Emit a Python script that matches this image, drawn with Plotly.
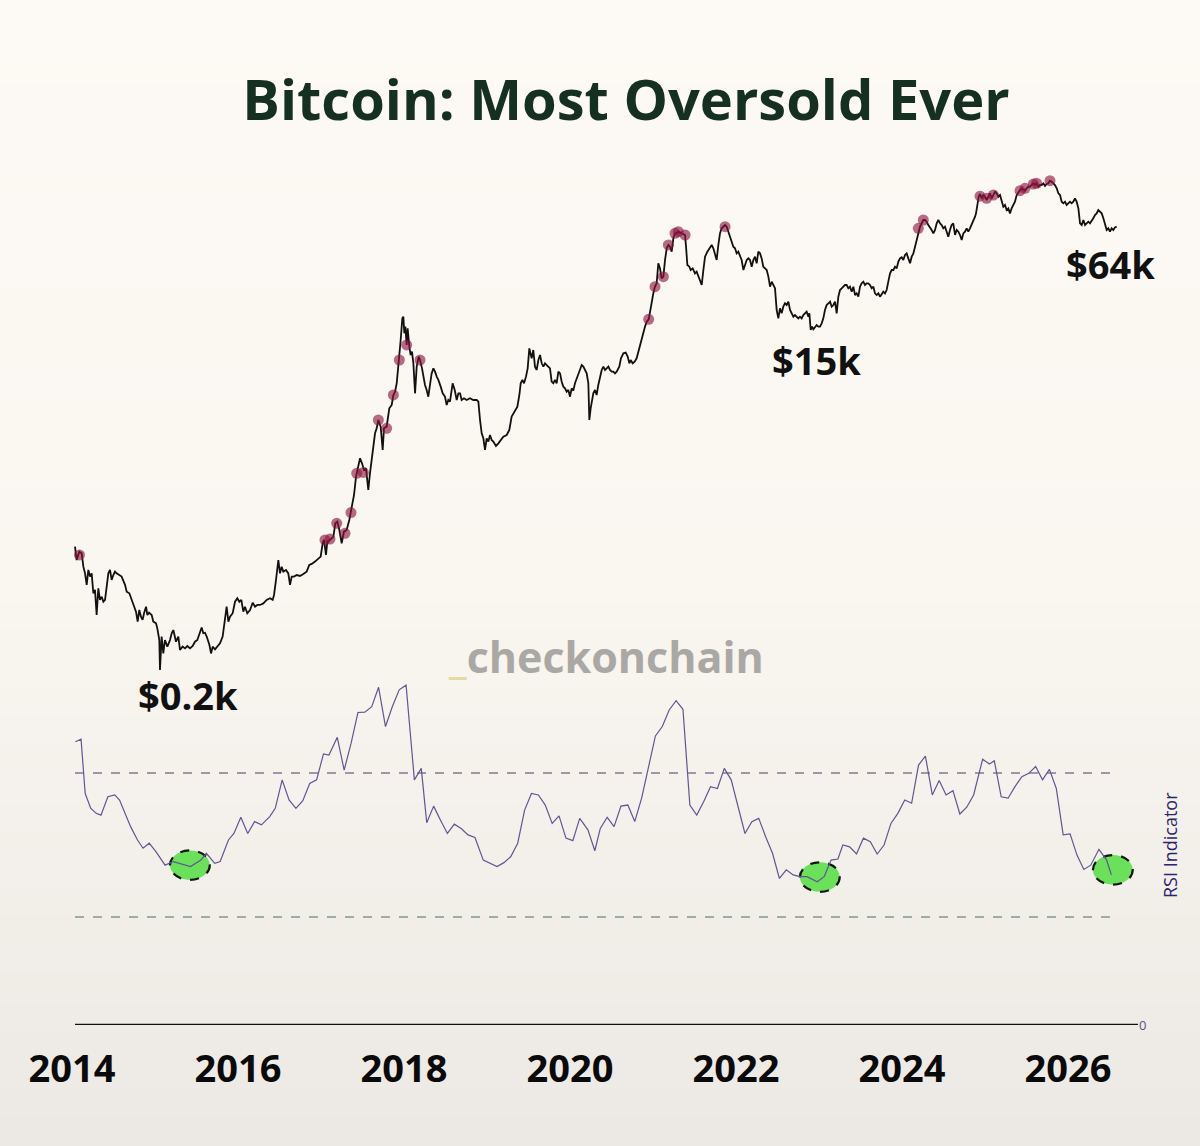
import plotly.graph_objects as go
import math

# ---------------- data ----------------
price_years = [
2014.036,2014.056,2014.088,2014.117,2014.137,2014.157,2014.177,2014.197,2014.217,2014.237,2014.257,2014.277,2014.297,2014.317,2014.337,2014.358,2014.378,2014.398,2014.418,2014.438,2014.458,2014.478,2014.498,2014.518,2014.538,2014.570,2014.598,2014.639,2014.659,2014.691,2014.719,2014.739,2014.771,2014.791,2014.811,2014.831,2014.851,2014.868,2014.892,2014.908,2014.928,2014.960,2014.980,2015.012,2015.028,2015.052,2015.060,2015.080,2015.100,2015.120,2015.149,2015.181,2015.201,2015.221,2015.253,2015.281,2015.301,2015.333,2015.361,2015.390,2015.422,2015.454,2015.482,2015.510,2015.542,2015.562,2015.582,2015.602,2015.623,2015.655,2015.675,2015.695,2015.723,2015.751,2015.783,2015.815,2015.843,2015.863,2015.884,2015.904,2015.936,2015.964,2015.992,2016.016,2016.040,2016.064,2016.084,2016.112,2016.145,2016.177,2016.205,2016.233,2016.265,2016.305,2016.345,2016.386,2016.418,2016.434,2016.458,2016.486,2016.506,2016.526,2016.546,2016.578,2016.606,2016.627,2016.647,2016.675,2016.707,2016.747,2016.787,2016.827,2016.859,2016.888,2016.928,2016.968,2016.996,2017.020,2017.036,2017.060,2017.076,2017.108,2017.149,2017.173,2017.197,2017.221,2017.249,2017.277,2017.309,2017.341,2017.357,2017.382,2017.398,2017.422,2017.450,2017.470,2017.494,2017.518,2017.542,2017.570,2017.590,
2017.611,2017.651,2017.671,2017.691,2017.719,2017.743,2017.759,2017.791,2017.823,2017.852,2017.872,2017.892,2017.912,2017.932,2017.944,2017.960,2017.980,2017.992,2018.004,2018.016,2018.032,2018.044,2018.064,2018.080,2018.096,2018.113,2018.133,2018.153,2018.177,2018.193,2018.217,2018.233,2018.253,2018.273,2018.293,2018.313,2018.333,2018.354,2018.374,2018.394,2018.414,2018.442,2018.466,2018.494,2018.514,2018.534,2018.554,2018.586,2018.611,2018.635,2018.655,2018.675,2018.695,2018.723,2018.755,2018.795,2018.835,2018.876,2018.896,2018.916,2018.936,2018.956,2018.976,2018.996,2019.016,2019.036,2019.056,2019.076,2019.108,2019.137,2019.165,2019.197,2019.237,2019.269,2019.297,2019.317,2019.337,2019.366,2019.390,2019.406,2019.426,2019.446,2019.470,2019.490,2019.510,2019.526,2019.538,2019.558,2019.578,2019.598,2019.619,2019.639,2019.659,2019.679,2019.699,2019.719,2019.739,2019.759,2019.779,2019.799,2019.819,2019.839,2019.860,2019.880,2019.900,2019.920,2019.940,2019.960,2019.980,2020.000,2020.020,2020.040,2020.060,2020.080,2020.100,2020.121,2020.141,2020.161,2020.181,2020.201,2020.221,2020.233,2020.249,2020.265,2020.281,2020.301,2020.321,2020.341,2020.362,2020.382,2020.402,2020.422,2020.442,2020.462,2020.482,2020.502,2020.522,2020.542,2020.562,2020.594,2020.614,2020.643,2020.671,2020.695,2020.715,2020.731,2020.755,2020.779,2020.803,2020.823,2020.843,2020.863,2020.884,2020.904,2020.924,2020.948,2020.972,2020.988,2021.004,2021.024,2021.044,2021.064,2021.084,2021.104,2021.125,2021.145,2021.165,2021.185,2021.205,2021.225,2021.245,2021.265,2021.285,2021.305,
2021.346,2021.386,2021.398,2021.414,2021.438,2021.454,2021.478,2021.506,2021.526,2021.546,2021.566,2021.587,2021.607,2021.627,2021.655,2021.679,2021.707,2021.727,2021.747,2021.767,2021.787,2021.807,2021.827,2021.848,2021.868,2021.888,2021.908,2021.928,2021.948,2021.968,2021.988,2022.008,2022.028,2022.048,2022.068,2022.089,2022.109,2022.129,2022.149,2022.169,2022.189,2022.209,2022.229,2022.249,2022.269,2022.289,2022.309,2022.329,2022.350,2022.370,2022.390,2022.410,2022.430,2022.450,2022.470,2022.490,2022.510,2022.530,2022.550,2022.570,2022.590,2022.611,2022.631,2022.651,2022.671,2022.691,2022.711,2022.731,2022.751,2022.771,2022.791,2022.811,2022.831,2022.851,2022.872,2022.884,2022.900,2022.916,2022.932,2022.952,2022.972,2022.992,2023.012,2023.032,2023.052,2023.072,2023.092,2023.113,2023.133,2023.153,2023.173,2023.193,2023.213,2023.233,2023.253,2023.273,2023.293,2023.313,2023.333,2023.353,2023.373,2023.394,2023.414,2023.434,2023.454,2023.474,2023.494,2023.514,2023.534,2023.554,2023.574,2023.594,2023.615,2023.635,2023.655,2023.675,2023.695,2023.715,2023.735,2023.755,2023.775,2023.795,2023.815,2023.835,2023.856,2023.876,2023.896,2023.916,2023.936,2023.956,2023.976,2023.996,2024.016,2024.036,2024.056,2024.076,2024.097,2024.117,2024.137,2024.157,2024.177,2024.197,2024.217,2024.237,2024.257,2024.277,2024.297,2024.317,2024.337,2024.357,2024.378,2024.398,2024.418,2024.438,2024.458,2024.478,2024.498,2024.518,2024.538,2024.558,2024.578,2024.598,2024.618,2024.639,2024.659,2024.679,2024.699,2024.719,2024.739,2024.759,2024.779,2024.799,2024.819,2024.839,2024.859,2024.880,2024.892,2024.908,2024.924,2024.940,2024.960,2024.980,2025.000,2025.020,2025.040,2025.060,2025.080,2025.101,2025.121,2025.141,2025.161,2025.181,2025.201,2025.221,2025.241,2025.261,2025.281,2025.301,2025.321,2025.341,2025.361,2025.382,2025.402,2025.422,2025.442,2025.462,2025.482,2025.502,2025.522,2025.542,2025.562,2025.582,2025.602,2025.622,2025.643,2025.663,2025.683,2025.703,2025.723,2025.743,2025.763,2025.783,2025.803,2025.823,2025.843,2025.864,2025.884,2025.904,2025.924,2025.944,2025.964,2025.984,2026.004,2026.024,2026.044,2026.064,2026.084,2026.104,2026.125,2026.145,2026.165,2026.185,2026.205,2026.225,2026.245,2026.265,2026.285,2026.305,2026.325,2026.345,2026.365,2026.386,2026.406,2026.426,2026.446,2026.466,2026.486,2026.506,2026.526,2026.546,2026.566,2026.586]

price_usd = [
944,796,886,867,731,671,579,701,644,671,520,543,394,554,478,498,467,478,566,671,701,617,657,686,671,657,644,579,531,520,478,448,411,362,420,386,370,403,438,394,406,394,362,354,332,286,195,299,241,286,263,286,312,325,280,299,252,263,257,265,257,265,280,286,312,336,312,314,299,269,241,263,254,263,274,299,370,438,362,386,403,467,488,467,478,411,438,403,420,461,438,448,448,457,478,488,478,509,617,796,671,731,686,701,671,579,644,644,657,649,666,686,747,757,780,814,831,986,1029,849,1007,1029,1073,1273,1301,1169,986,1144,1169,1329,1447,1645,1829,2313,2629,2924,2742,2519,2573,1950,2414,
2887,4026,4293,4774,4385,3253,4293,4385,5543,5784,6574,6859,7632,9447,10285,13282,17524,17907,14472,15760,12462,15421,12196,10963,11438,9859,6715,9447,10735,10285,9243,8312,7473,7005,6431,7473,8669,9243,8861,8312,7966,7313,6715,6431,5784,6166,6036,7632,7005,6166,6715,6715,6166,6302,6166,6302,6166,6166,6036,4774,4026,3776,3253,3776,3619,3941,3697,3619,3424,3542,3697,3857,3941,4201,4981,5199,5311,5662,6574,7632,7966,7632,8312,9243,11937,11204,10507,11691,9447,9052,10285,10963,9859,9447,9859,9644,9447,9243,7794,7632,7966,7632,8861,8669,7794,7313,7159,6859,7005,6431,7159,6948,7632,8135,8491,9052,9644,9447,9052,8669,7632,4774,5543,6036,6715,7005,6574,7473,8312,9052,9447,9052,9243,9447,9052,8861,8861,8669,8861,9447,10507,11204,11296,10735,9859,10285,9859,10070,10507,11438,12196,13571,14472,15760,16796,17302,19916,22161,24134,26280,27414,35411,33229,29239,29862,36965,42915,44790,43840,41115,48780,51985,51985,53114,
51950,50890,43830,34670,33930,32520,33210,31160,31830,29870,28600,26840,32520,38560,41100,42900,44770,42900,39400,36950,44770,51950,55410,57090,57830,56590,53090,49800,45730,43830,42900,40240,41100,38560,36950,32520,34670,36950,37740,36950,33930,36950,38560,35420,41100,40240,37740,33930,33210,32520,29870,26270,28010,26840,25720,19490,17520,19910,18680,20340,21230,20780,21680,19490,18680,17900,18280,17900,17520,17900,17520,18280,18680,19080,17900,18680,15100,15750,15220,15610,16090,15750,15750,16430,17520,19490,20780,21230,21680,20340,20780,21680,18680,23110,25170,25720,26270,26840,26840,25720,26270,24640,26270,23610,24120,23110,26270,27430,28010,26840,27430,27430,26840,25720,26270,24120,23610,24120,23110,24120,24640,24120,25170,28010,31160,32520,32520,33930,33210,36180,37740,38230,36950,39400,40240,37740,35420,38560,40240,43830,47720,53090,56590,59070,61650,61650,60340,57830,55410,54240,51950,54240,59070,61650,59070,57830,55410,56590,53090,49800,54240,57830,59070,50890,54240,53090,50890,47720,51950,53090,55410,53090,55410,57830,60340,64330,67110,76310,83080,85960,81330,84880,83080,79610,83080,86670,81330,84880,88560,86670,83080,84880,77920,73100,74680,70050,71560,67110,71560,74680,77920,84880,88560,90480,92440,90480,89700,92440,94430,94430,96450,98520,96450,98520,94430,96450,96450,98520,95220,97670,98520,101940,100650,98520,96450,92440,86670,84880,77920,76310,77920,74680,76310,77920,76310,77920,81330,77920,71560,59070,57830,61650,57830,59070,60340,59070,61650,62970,65710,67110,70050,68580,67110,62970,57830,54240,55410,53090,55410,54240,56110,56590]

# overbought (RSI > 70) signal dots on price
overbought_years = [2014.090, 2017.048, 2017.108, 2017.189, 2017.289, 2017.361, 2017.430, 2017.510,
                    2017.691, 2017.791, 2017.872, 2017.944, 2018.032, 2018.193,
                    2020.948, 2021.024, 2021.125, 2021.185, 2021.265, 2021.305, 2021.386, 2021.868,
                    2024.197, 2024.257, 2024.940, 2025.020, 2025.101, 2025.422, 2025.482, 2025.582, 2025.622, 2025.783]
overbought_prices = [850, 1029, 1040, 1273, 1120, 1460, 2414, 2440,
                     4774, 4290, 6574, 10285, 12462, 10285,
                     17302, 26280, 29862, 44790, 51985, 53114, 50890, 56590,
                     55410, 61650, 83600, 81330, 84880, 89700, 92440, 97670, 98520, 101940]

rsi_years = [
2014.042,2014.109,2014.159,2014.225,2014.291,2014.349,2014.432,2014.515,2014.573,2014.640,2014.706,2014.789,2014.856,2014.930,2015.013,2015.121,2015.221,2015.428,2015.553,2015.619,2015.719,2015.785,2015.885,2015.951,2016.034,2016.117,2016.200,2016.283,2016.382,2016.449,2016.532,2016.615,2016.698,2016.781,2016.864,2016.947,2017.030,2017.096,2017.196,2017.279,2017.362,2017.445,2017.528,2017.611,2017.694,2017.777,2017.859,2017.942,2018.025,2018.125,2018.208,2018.274,2018.357,2018.440,2018.523,2018.606,2018.689,2018.772,2018.855,2018.955,2019.038,2019.121,2019.204,2019.287,2019.370,2019.453,2019.536,2019.619,2019.702,2019.785,2019.868,2019.951,2020.034,2020.117,2020.216,2020.299,2020.365,2020.448,2020.531,2020.614,2020.697,2020.780,2020.863,2020.946,2021.029,2021.112,2021.195,2021.278,2021.361,2021.444,2021.527,2021.610,2021.693,2021.776,2021.859,2021.942,2022.025,2022.108,2022.191,2022.274,2022.357,2022.440,2022.523,2022.606,2022.689,2022.772,2022.855,2022.979,2023.062,2023.145,2023.228,2023.287,2023.369,2023.452,2023.535,2023.618,2023.701,2023.784,2023.867,2023.950,2024.033,2024.116,2024.199,2024.282,2024.365,2024.448,2024.531,2024.614,2024.697,2024.780,2024.863,2024.971,2025.054,2025.112,2025.195,2025.278,2025.361,2025.444,2025.527,2025.610,2025.693,2025.776,2025.859,2025.942,2026.025,2026.108,2026.191,2026.274,2026.373,2026.465,2026.523]
rsi_values = [
78.7,79.4,64.3,60.2,58.8,58.3,63.4,63.9,62.5,58.8,55.1,51.4,49.1,50.5,48.1,44.4,45.4,44.0,45.8,47.7,44.9,45.4,51.4,53.2,57.7,53.2,56.5,55.6,57.9,60.2,68.1,62.5,60.2,62.3,67.1,68.1,75.3,75.0,79.9,70.8,78.2,86.8,86.9,88.4,93.8,82.9,88.4,93.1,94.4,68.1,71.3,56.2,60.8,56.9,53.2,55.8,54.6,52.8,52.1,45.8,44.9,44.0,45.1,46.8,50.5,59.7,64.3,63.9,61.1,56.0,58.1,51.9,51.2,57.4,54.2,48.4,54.6,57.7,55.1,60.8,61.1,56.5,63.0,71.3,80.3,82.9,87.5,90.1,87.7,61.1,58.3,62.0,66.2,65.7,71.3,68.1,60.6,53.2,56.5,57.4,52.3,47.7,40.7,43.1,41.7,41.2,41.2,39.8,41.2,45.8,46.1,50.0,49.5,47.5,51.9,50.9,47.5,50.0,56.0,58.8,62.5,61.6,72.2,74.7,63.9,67.9,63.9,65.1,58.6,60.5,63.9,73.8,72.5,73.4,63.4,63.0,66.2,69.0,69.9,71.8,68.1,71.0,65.7,52.8,53.1,47.2,43.2,44.4,48.8,45.8,41.7]

rsi_overbought = 70
rsi_oversold = 30

# most oversold readings (highlighted)
oversold_years = [2015.42, 2023.01, 2026.54]
oversold_rsi = [44.4, 41.1, 43.1]

tick_years = [2014, 2016, 2018, 2020, 2022, 2024, 2026]
tick_labels = ["2014", "2016", "2018", "2020", "2022", "2024", "2026"]

price_labels = ["$0.2k", "$15k", "$64k"]

# ---------------- layout geometry ----------------
W, H = 1200, 1146
ML, MR, MT, MB = 30, 62, 170, 121
plot_w = W - ML - MR
plot_h = H - MT - MB

def px_to_paper_x(px):
    return (px - ML) / plot_w

def px_to_paper_y(py):
    return (H - MB - py) / plot_h

FONT = "Open Sans"

fig = go.Figure()

fig.add_trace(go.Scatter(
    x=price_years, y=price_usd, mode="lines",
    line=dict(color="#111111", width=1.8), yaxis="y", hoverinfo="skip", showlegend=False))

fig.add_trace(go.Scatter(
    x=overbought_years, y=overbought_prices, mode="markers",
    marker=dict(size=11, color="rgba(140,20,62,0.62)", line=dict(width=0)),
    yaxis="y", hoverinfo="skip", showlegend=False))

fig.add_trace(go.Scatter(
    x=rsi_years, y=rsi_values, mode="lines",
    line=dict(color="#5f5693", width=1.2), yaxis="y2", hoverinfo="skip", showlegend=False))

shapes = []
# subtle background gradient
stops = [(0.0, (253, 250, 245)), (0.5, (250, 246, 240)), (1.0, (236, 233, 228))]
def lerp_color(t):
    for (t0, c0), (t1, c1) in zip(stops[:-1], stops[1:]):
        if t <= t1:
            f = (t - t0) / (t1 - t0)
            return tuple(round(c0[i] + (c1[i] - c0[i]) * f) for i in range(3))
    return stops[-1][1]
nb = 40
for i in range(nb):
    top_px = H * i / nb
    bot_px = H * (i + 1) / nb + 1
    c = lerp_color((i + 0.5) / nb)
    shapes.append(dict(type="rect", xref="paper", yref="paper", layer="below",
                       x0=px_to_paper_x(0), x1=px_to_paper_x(W),
                       y0=px_to_paper_y(bot_px), y1=px_to_paper_y(top_px),
                       fillcolor="rgb(%d,%d,%d)" % c, line=dict(width=0)))

# RSI threshold lines
shapes.append(dict(type="line", xref="x", yref="y2", x0=price_years[0], x1=price_years[-1],
                   y0=rsi_overbought, y1=rsi_overbought, layer="below",
                   line=dict(color="#8a7593", width=1.6, dash="dash")))
shapes.append(dict(type="line", xref="x", yref="y2", x0=price_years[0], x1=price_years[-1],
                   y0=rsi_oversold, y1=rsi_oversold, layer="below",
                   line=dict(color="#7d9a8a", width=1.6, dash="dash")))

# oversold highlight ellipses
rx, ry = 0.24, 4.1
for xo, yo in zip(oversold_years, oversold_rsi):
    shapes.append(dict(type="circle", xref="x", yref="y2", layer="below",
                       x0=xo - rx, x1=xo + rx, y0=yo - ry, y1=yo + ry,
                       fillcolor="#6be05a", line=dict(color="#101810", width=2.2, dash="dash")))

# x axis baseline
shapes.append(dict(type="line", xref="x", yref="y2", x0=price_years[0],
                   x1=2014 + (1138 - 72) / 83.0,
                   y0=0, y1=0, line=dict(color="#111111", width=2.5)))

fig.update_layout(shapes=shapes)

annotations = []
label_pos = [(188, 695), (816, 360), (1110, 264)]
for txt, (px, py) in zip(price_labels, label_pos):
    annotations.append(dict(text=txt, xref="paper", yref="paper",
                            x=px_to_paper_x(px), y=px_to_paper_y(py),
                            showarrow=False, xanchor="center", yanchor="middle",
                            font=dict(family=FONT, size=38, color="#111111", weight=700)))
annotations.append(dict(text="<span style='color:#e8d9a2'>_</span>checkonchain",
                        xref="paper", yref="paper", x=px_to_paper_x(606), y=px_to_paper_y(656),
                        showarrow=False, xanchor="center", yanchor="middle",
                        font=dict(family=FONT, size=43, color="#aaa8a4", weight=700)))
annotations.append(dict(text="RSI Indicator", xref="paper", yref="paper",
                        x=px_to_paper_x(1170), y=px_to_paper_y(845), textangle=-90,
                        showarrow=False, xanchor="center", yanchor="middle",
                        font=dict(family=FONT, size=18, color="#2b2470")))

x_lo = 2014 + (ML - 72) / 83.0
x_hi = 2014 + (W - MR - 72) / 83.0
logp_lo = math.log10(200) - (1025 - 668) / 180.0
logp_hi = math.log10(200) + (668 - MT) / 180.0

fig.update_layout(
    width=W, height=H,
    margin=dict(l=ML, r=MR, t=MT, b=MB, pad=0),
    paper_bgcolor="#f9f5ef", plot_bgcolor="rgba(0,0,0,0)",
    title=dict(text="Bitcoin: Most Oversold Ever", x=626 / W, xanchor="center",
               y=1 - 100 / H, yanchor="middle",
               font=dict(family=FONT, size=56, color="#163020", weight=700)),
    xaxis=dict(range=[x_lo, x_hi], tickvals=tick_years, ticktext=tick_labels,
               showgrid=False, zeroline=False, showline=False, ticks="",
               ticklabelstandoff=18,
               tickfont=dict(family=FONT, size=38, color="#0a0a0a", weight=700)),
    yaxis=dict(type="log", range=[logp_lo, logp_hi], visible=False),
    yaxis2=dict(range=[0, plot_h / 3.6], overlaying="y", side="right",
                showgrid=False, zeroline=False, showline=False, ticks="",
                tickvals=[0], ticktext=["0"],
                tickfont=dict(family=FONT, size=13, color="#5a5085")),
    annotations=annotations,
    showlegend=False,
)

fig.write_html("out.html")
